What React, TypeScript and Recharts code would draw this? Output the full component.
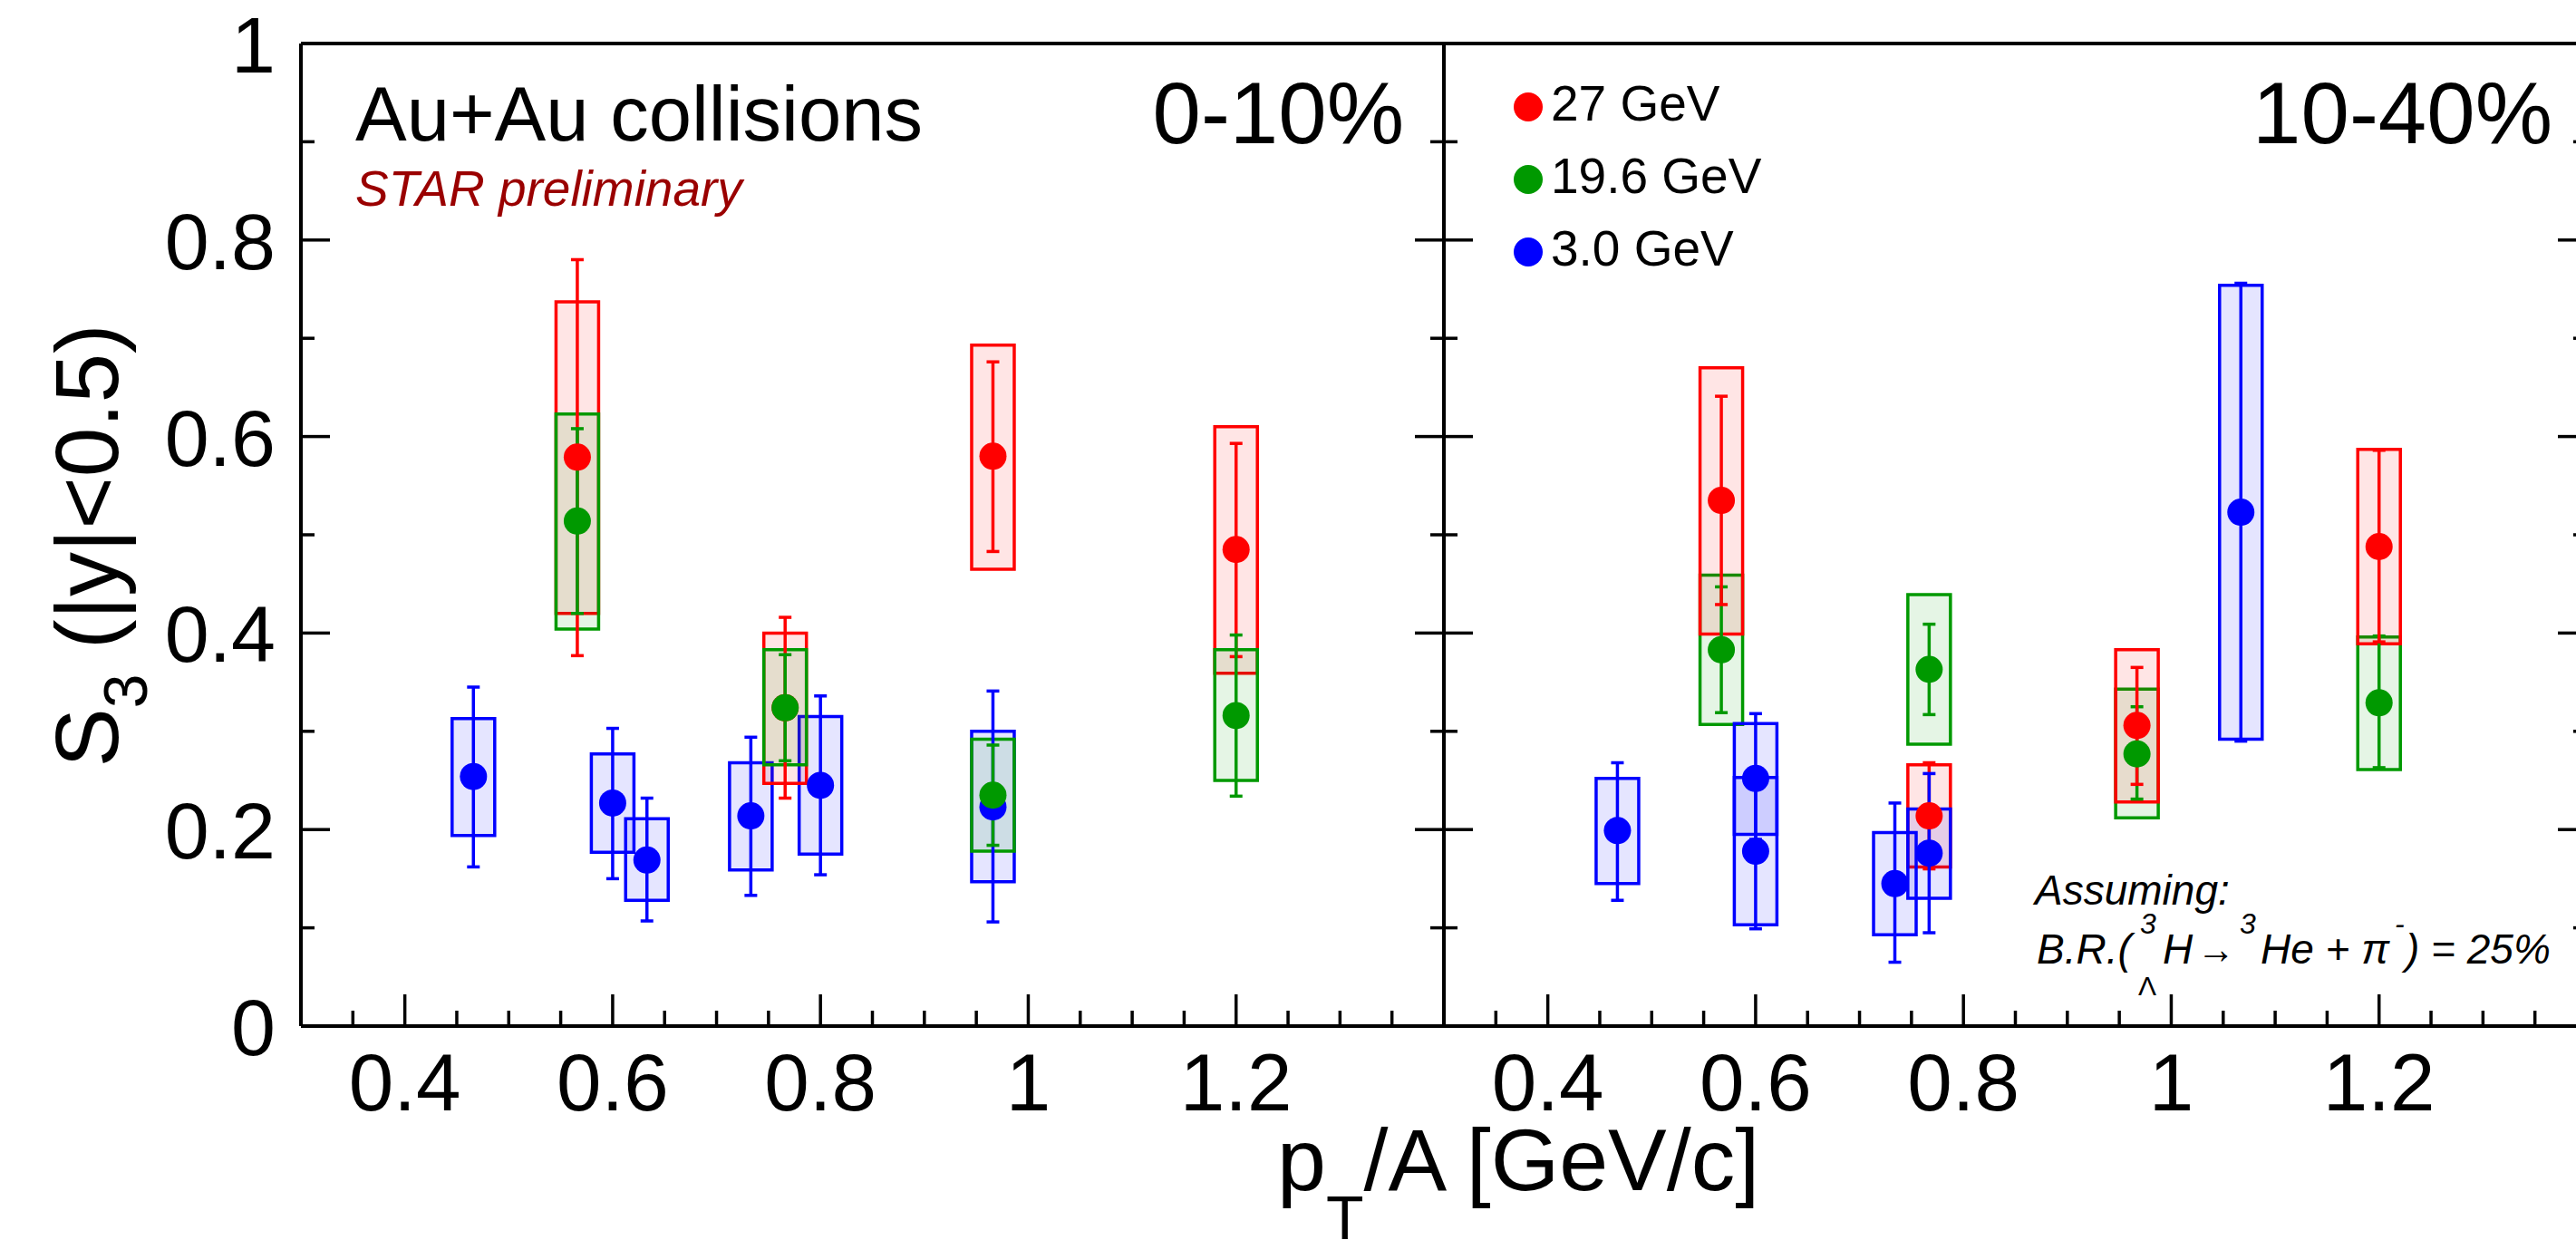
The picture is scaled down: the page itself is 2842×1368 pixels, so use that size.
import React from "react";
import { ScatterChart, Scatter, XAxis, YAxis, ErrorBar, ReferenceArea, ReferenceLine, Legend } from "recharts";

const FONT = '"Liberation Sans", Arial, Helvetica, sans-serif';

const xTicks = [0.35, 0.4, 0.45, 0.5, 0.55, 0.6, 0.65, 0.7, 0.75, 0.8, 0.85, 0.9, 0.95, 1, 1.05, 1.1, 1.15, 1.2, 1.25, 1.3, 1.35];
const yTicks = [0, 0.1, 0.2, 0.3, 0.4, 0.5, 0.6, 0.7, 0.8, 0.9, 1];

// [pT/A, S3, stat low, stat high, sys low, sys high]
type Row = [number, number, number, number, number, number];

const gev27Central: Row[] = [
  [0.566, 0.579, 0.377, 0.78, 0.42, 0.737],
  [0.766, 0.324, 0.232, 0.416, 0.247, 0.4],
  [0.966, 0.58, 0.483, 0.676, 0.465, 0.693],
  [1.2, 0.485, 0.376, 0.593, 0.359, 0.61],
];
const gev196Central: Row[] = [
  [0.566, 0.514, 0.42, 0.608, 0.404, 0.623],
  [0.766, 0.324, 0.27, 0.378, 0.266, 0.383],
  [0.966, 0.235, 0.184, 0.286, 0.178, 0.292],
  [1.2, 0.316, 0.234, 0.398, 0.25, 0.383],
];
const gev3Central: Row[] = [
  [0.466, 0.254, 0.162, 0.345, 0.194, 0.313],
  [0.6, 0.227, 0.15, 0.303, 0.177, 0.277],
  [0.633, 0.169, 0.107, 0.232, 0.128, 0.211],
  [0.733, 0.214, 0.133, 0.294, 0.159, 0.268],
  [0.8, 0.245, 0.154, 0.336, 0.175, 0.315],
  [0.966, 0.223, 0.106, 0.341, 0.147, 0.3],
];

const gev27Mid: Row[] = [
  [0.567, 0.535, 0.429, 0.641, 0.399, 0.67],
  [0.767, 0.214, 0.16, 0.268, 0.162, 0.266],
  [0.967, 0.306, 0.246, 0.365, 0.228, 0.383],
  [1.2, 0.488, 0.391, 0.586, 0.389, 0.587],
];
const gev196Mid: Row[] = [
  [0.567, 0.383, 0.319, 0.447, 0.307, 0.459],
  [0.767, 0.363, 0.317, 0.409, 0.287, 0.439],
  [0.967, 0.277, 0.231, 0.325, 0.212, 0.343],
  [1.2, 0.329, 0.263, 0.397, 0.261, 0.396],
];
const gev3Mid: Row[] = [
  [0.467, 0.199, 0.128, 0.268, 0.145, 0.252],
  [0.6, 0.252, 0.19, 0.318, 0.195, 0.308],
  [0.6, 0.178, 0.099, 0.257, 0.103, 0.253],
  [0.734, 0.145, 0.065, 0.227, 0.093, 0.197],
  [0.767, 0.176, 0.095, 0.257, 0.13, 0.221],
  [1.067, 0.523, 0.29, 0.756, 0.292, 0.754],
];

const RED = "#ff0000";
const GREEN = "#009900";
const BLUE = "#0000ff";
const legendOrder = ["27 GeV", "19.6 GeV", "3.0 GeV"];

const BOX_HALF = 0.0205;

type Series = { name: string; color: string; rows: Row[] };

const centralSeries: Series[] = [
  { name: "3.0 GeV", color: BLUE, rows: gev3Central },
  { name: "27 GeV", color: RED, rows: gev27Central },
  { name: "19.6 GeV", color: GREEN, rows: gev196Central },
];
const midSeries: Series[] = [
  { name: "19.6 GeV", color: GREEN, rows: gev196Mid },
  { name: "27 GeV", color: RED, rows: gev27Mid },
  { name: "3.0 GeV", color: BLUE, rows: gev3Mid },
];

const toPoints = (rows: Row[]) => rows.map(([x, y, lo, hi]) => ({ x, y, err: [y - lo, hi - y] }));

const fmt = (v: number) => (v === 0 ? "0" : v === 1 ? "1" : String(v));

function YTick(props: any) {
  const { x, y, payload, side, labels } = props;
  const v = payload.value;
  const major = Math.round(v * 10) % 2 === 0;
  const len = major ? 32 : 15;
  const dir = side === "left" ? 1 : -1;
  return (
    <g>
      <line x1={x} x2={x + dir * len} y1={y} y2={y} stroke="#000" strokeWidth={3.5} />
      {labels && major && (
        <text x={x - 28} y={y + 32} textAnchor="end" fontSize={88} fontFamily={FONT} fill="#000">
          {fmt(v)}
        </text>
      )}
    </g>
  );
}

function XTick(props: any) {
  const { x, y, payload } = props;
  const v = payload.value;
  const major = Math.round(v * 20) % 4 === 0;
  return (
    <g>
      <line x1={x} x2={x} y1={y} y2={y - (major ? 35 : 17)} stroke="#000" strokeWidth={3.5} />
      {major && (
        <text x={x} y={y + 93} textAnchor="middle" fontSize={89} fontFamily={FONT} fill="#000">
          {fmt(v)}
        </text>
      )}
    </g>
  );
}

function LegendBox(props: any) {
  const items = [...(props.payload ?? [])].sort(
    (a: any, b: any) => legendOrder.indexOf(a.value) - legendOrder.indexOf(b.value)
  );
  return (
    <svg width={420} height={260}>
      {items.map((it: any, i: number) => (
        <g key={it.value}>
          <circle cx={43} cy={58 + 80 * i} r={16} fill={it.color} />
          <text x={68} y={73 + 80 * i} fontSize={55} fontFamily={FONT} fill="#000">
            {it.value}
          </text>
        </g>
      ))}
    </svg>
  );
}

function Panel({
  width,
  leftWidth,
  rightWidth,
  series,
  labels,
  legend,
  children,
}: {
  width: number;
  leftWidth: number;
  rightWidth: number;
  series: Series[];
  labels: boolean;
  legend: boolean;
  children?: React.ReactNode;
}) {
  const axisLine = { stroke: "#000", strokeWidth: 4 };
  return (
    <ScatterChart width={width} height={1368} margin={{ top: 48, right: 0, bottom: 0, left: 0 }}>
      <XAxis
        type="number"
        dataKey="x"
        domain={[0.3, 1.4]}
        ticks={xTicks}
        interval={0}
        height={236}
        tickSize={0}
        tickMargin={0}
        tickLine={false}
        axisLine={axisLine}
        tick={(p: any) => <XTick {...p} />}
        allowDataOverflow
      />
      <YAxis
        type="number"
        dataKey="y"
        domain={[0, 1]}
        ticks={yTicks}
        interval={0}
        width={leftWidth}
        tickSize={0}
        tickMargin={0}
        tickLine={false}
        axisLine={axisLine}
        tick={(p: any) => <YTick {...p} side="left" labels={labels} />}
        allowDataOverflow
      />
      <YAxis
        yAxisId="r"
        orientation="right"
        type="number"
        domain={[0, 1]}
        ticks={yTicks}
        interval={0}
        width={rightWidth}
        tickSize={0}
        tickMargin={0}
        tickLine={false}
        axisLine={axisLine}
        tick={(p: any) => <YTick {...p} side="right" labels={false} />}
        allowDataOverflow
      />
      <ReferenceLine y={1} stroke="#000" strokeWidth={4} />
      {series.map((s) =>
        s.rows.map(([x, , , , lo, hi], i) => (
          <ReferenceArea
            key={`${s.name}-box-${i}`}
            x1={x - BOX_HALF}
            x2={x + BOX_HALF}
            y1={lo}
            y2={hi}
            fill={s.color}
            fillOpacity={0.1}
            stroke={s.color}
            strokeWidth={3.5}
          />
        ))
      )}
      {series.map((s) => (
        <Scatter
          key={s.name}
          name={s.name}
          data={toPoints(s.rows)}
          fill={s.color}
          isAnimationActive={false}
          shape={(p: any) => <circle cx={p.cx} cy={p.cy} r={15} fill={s.color} />}
        >
          <ErrorBar dataKey="err" direction="y" width={7} stroke={s.color} strokeWidth={3.5} />
        </Scatter>
      ))}
      {legend && (
        <Legend
          layout="vertical"
          align="center"
          verticalAlign="middle"
          content={(p: any) => <LegendBox {...p} />}
          wrapperStyle={{ left: 150, top: 60, width: 420, height: 260 }}
        />
      )}
      {children}
    </ScatterChart>
  );
}

export default function App() {
  const ox = 1493; // page x of the right panel chart
  return (
    <div
      style={{
        position: "absolute",
        left: 0,
        top: 0,
        width: 2842,
        height: 1368,
        overflow: "hidden",
        background: "#fff",
      }}
    >
      <div style={{ position: "absolute", left: 0, top: 0 }}>
        <Panel width={1980} leftWidth={332} rightWidth={387} series={centralSeries} labels legend={false}>
          <text transform="translate(130,602) rotate(-90)" textAnchor="middle" fontSize={98} fontFamily={FONT} fill="#000">
            S
            <tspan fontSize={68} dy={32}>
              3
            </tspan>
            <tspan dy={-32}> (|y|&lt;0.5)</tspan>
          </text>
          <text x={1409} y={1313} fontSize={97} fontFamily={FONT} fill="#000">
            p
            <tspan fontSize={68} dy={54}>
              T
            </tspan>
            <tspan dy={-54}>/A [GeV/c]</tspan>
          </text>
          <text x={392} y={155} fontSize={85} fontFamily={FONT} fill="#000">
            Au+Au collisions
          </text>
          <text x={392} y={227} fontSize={55} fontStyle="italic" fontFamily={FONT} fill="#9a0000">
            STAR preliminary
          </text>
          <text x={1549} y={158} textAnchor="end" fontSize={96} fontFamily={FONT} fill="#000">
            0-10%
          </text>
        </Panel>
      </div>
      <div style={{ position: "absolute", left: ox, top: 0 }}>
        <Panel width={1461} leftWidth={100} rightWidth={100} series={midSeries} labels={false} legend>
          <text x={2816 - ox} y={158} textAnchor="end" fontSize={96} fontFamily={FONT} fill="#000">
            10-40%
          </text>
          <g fontFamily={FONT} fontStyle="italic" fill="#000">
            <text x={2245 - ox} y={998} fontSize={46}>
              Assuming:
            </text>
            <text y={1063} fontSize={46}>
              <tspan x={2247 - ox}>B.R.(</tspan>
              <tspan x={2361 - ox} y={1030} fontSize={32}>3</tspan>
              <tspan x={2359 - ox} y={1098} fontSize={30} fontStyle="normal">Λ</tspan>
              <tspan x={2386 - ox} y={1063}>H</tspan>
              <tspan x={2424 - ox} y={1063} textLength={42} lengthAdjust="spacingAndGlyphs">→</tspan>
              <tspan x={2471 - ox} y={1030} fontSize={32}>3</tspan>
              <tspan x={2494 - ox} y={1063}>He + π</tspan>
              <tspan x={2642 - ox} y={1030} fontSize={32}>-</tspan>
              <tspan x={2654 - ox} y={1063}>) = 25%</tspan>
            </text>
          </g>
        </Panel>
      </div>
    </div>
  );
}
